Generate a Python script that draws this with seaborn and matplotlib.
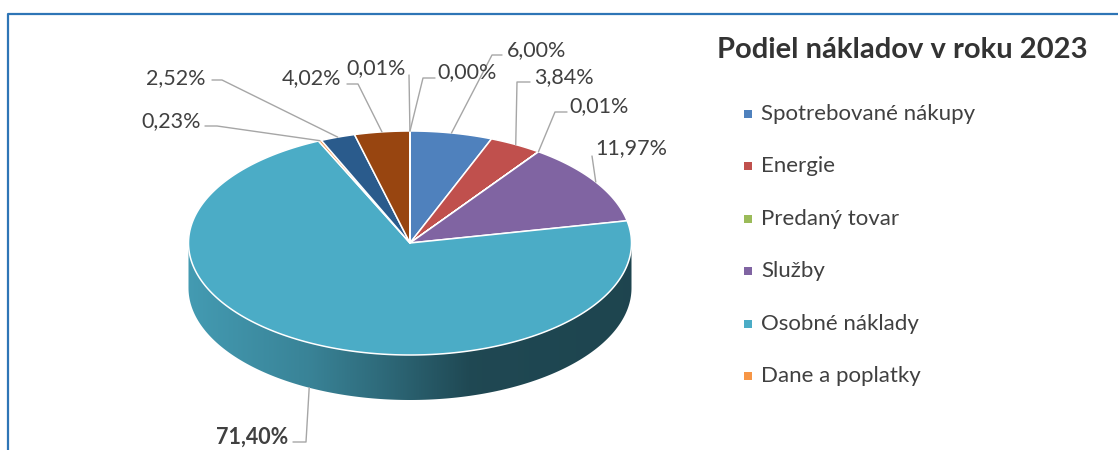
"""3D-style pie chart: Podiel nákladov v roku 2023."""

import matplotlib

matplotlib.use("Agg")
import matplotlib.pyplot as plt  # noqa: E402
import numpy as np  # noqa: E402
import seaborn as sns  # noqa: E402
from matplotlib.colors import to_rgb  # noqa: E402
from matplotlib.patches import Polygon  # noqa: E402

# --- data -----------------------------------------------------------------
categories = [
    "Spotrebované nákupy",
    "Energie",
    "Predaný tovar",
    "Služby",
    "Osobné náklady",
    "Dane a poplatky",
    "Odpisy",
    "Ostatné náklady",
    "Finančné náklady",
    "Mimoriadne náklady",
]
shares = [6.00, 3.84, 0.01, 11.97, 71.40, 0.23, 2.52, 4.02, 0.01, 0.00]
legend_shown = 6  # the original legend is cut after six entries
title = "Podiel nákladov v roku 2023"

# --- style ----------------------------------------------------------------
sns.set_theme(style="white")
plt.rcParams["font.family"] = ["Lato", "DejaVu Sans"]

colors = ["#4F81BD", "#C0504D", "#9BBB59", "#8064A2", "#4BACC6", "#F79646",
          "#2A5B8C", "#984510", "#7A4E9A", "#1F7F95"]
TEXT = "#404040"
LEADER = "#A6A6A6"

# pie geometry in pixel space
CX, CY, RX, RY, DEPTH = 410, 243, 221.5, 112, 45

# label placement: text centre, elbow, line end (pixel space)
label_pos = [(537, 50), (564, 77), (599, 106), (631, 148), (252, 437),
             (171, 121), (176, 78), (312, 78), (376, 68), (467, 72)]
elbow_pos = [(492, 55), (517, 82), (555, 112), (592, 156), (306, 442),
             (217, 126), (222, 80), (358, 84), (409, 75), (423, 78)]
end_x = [502, 530, 567, 592, 293, 205, 212, 347, 409, 435]

fig = plt.figure(figsize=(11.18, 4.5), dpi=100)
ax = fig.add_axes([0, 0, 1, 1])
ax.set_xlim(0, 1118)
ax.set_ylim(450, 0)
ax.axis("off")


def rim(theta):
    return CX + RX * np.sin(theta), CY - RY * np.cos(theta)


vals = np.array(shares)
edges = np.concatenate([[0], np.cumsum(vals)]) / vals.sum() * 2 * np.pi


def side_shade(x):
    return np.interp(x, [188, 310, 380, 470, 632], [0.90, 0.76, 0.62, 0.42, 0.40])


# side walls (front half only)
xs = np.arange(0, 1118)
for i, (a0, a1) in enumerate(zip(edges[:-1], edges[1:])):
    lo, hi = max(a0, np.pi / 2), min(a1, 3 * np.pi / 2)
    if hi <= lo:
        continue
    t = np.linspace(lo, hi, 200)
    px, py = rim(t)
    pts = np.column_stack([np.r_[px, px[::-1]], np.r_[py, py[::-1] + DEPTH]])
    clip = Polygon(pts, closed=True, facecolor="none", edgecolor="none")
    ax.add_patch(clip)
    base = np.array(to_rgb(colors[i]))
    grad = np.clip(side_shade(xs)[:, None] * base[None, :], 0, 1)
    img = np.repeat(grad[None, :, :], 2, axis=0)
    im = ax.imshow(img, extent=(0, 1118, 450, 0), aspect="auto",
                   interpolation="bilinear", zorder=1)
    im.set_clip_path(clip)

ax.set_xlim(0, 1118)
ax.set_ylim(450, 0)

# top faces
for i, (a0, a1) in enumerate(zip(edges[:-1], edges[1:])):
    if a1 - a0 <= 0:
        continue
    t = np.linspace(a0, a1, max(int((a1 - a0) * 120), 2))
    px, py = rim(t)
    pts = np.column_stack([np.r_[CX, px], np.r_[CY, py]])
    ax.add_patch(Polygon(pts, closed=True, facecolor=colors[i], edgecolor="white",
                         linewidth=1.1, joinstyle="round", zorder=2))

# data labels with leader lines
mids = (edges[:-1] + edges[1:]) / 2
for i, v in enumerate(shares):
    ax_, ay_ = rim(mids[i])
    if np.cos(mids[i]) < 0:
        ay_ += DEPTH
    ex, ey = elbow_pos[i]
    ax.plot([ax_, ex, end_x[i]], [ay_, ey, ey], color=LEADER, lw=1.0, zorder=3)
    txt = f"{v:.2f}".replace(".", ",") + "%"
    bold = v == max(shares)
    ax.text(label_pos[i][0], label_pos[i][1], txt, ha="center", va="center",
            fontsize=15.5, color=TEXT, fontweight="bold" if bold else "normal",
            zorder=4)

# title and legend
ax.text(717, 50, title, ha="left", va="center", fontsize=21, fontweight="bold",
        color="#333333")
for i in range(legend_shown):
    y = 114 + i * 52.4
    ax.scatter([748], [y], marker="s", s=36, color=colors[i], linewidths=0)
    ax.text(761, y, categories[i], ha="left", va="center", fontsize=16,
            color=TEXT)

# chart frame (left and top edges visible)
ax.plot([7.5, 7.5, 1118], [450, 13.5, 13.5], color="#2E75B6", lw=1.6,
        solid_capstyle="butt")

fig.savefig("out.png", dpi=100)
plt.close(fig)
